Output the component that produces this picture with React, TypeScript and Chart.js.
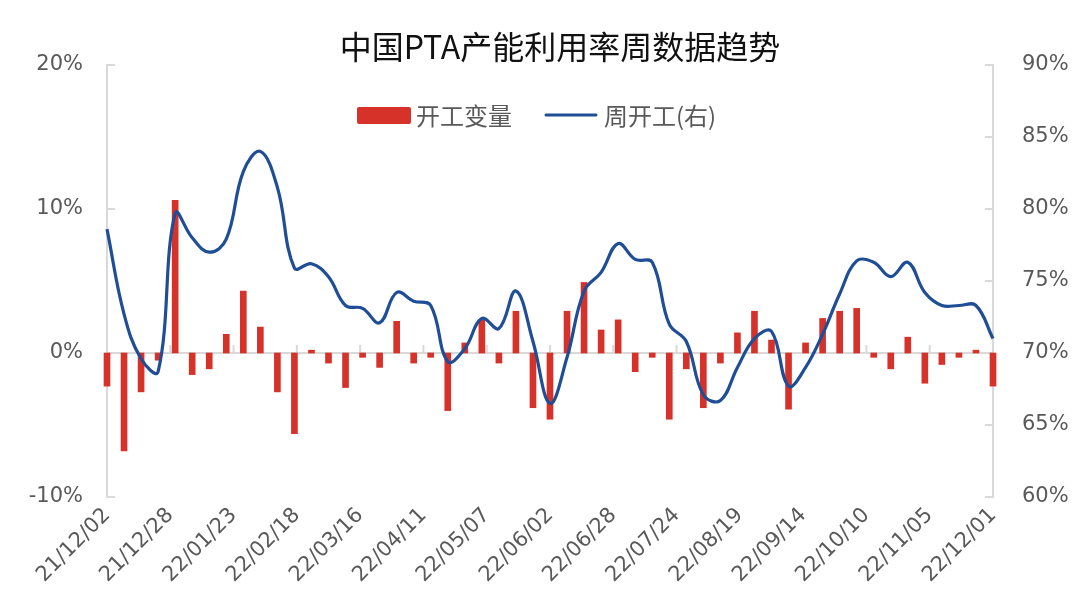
import React, { useEffect, useRef } from "react";
import { Chart, registerables } from "chart.js";

Chart.register(...registerables);

const tickLabels = ["21/12/02", "21/12/28", "22/01/23", "22/02/18", "22/03/16", "22/04/11", "22/05/07", "22/06/02", "22/06/28", "22/07/24", "22/08/19", "22/09/14", "22/10/10", "22/11/05", "22/12/01"];
const tickStepDays = 26;
const weekStepDays = 7;

const changeValues = [
  -2.3, -6.8, -2.7, -0.5, 10.6, -1.5, -1.1, 1.3, 4.3, 1.8,
  -2.7, -5.6, 0.2, -0.7, -2.4, -0.3, -1.0, 2.2, -0.7, -0.3,
  -4.0, 0.7, 2.3, -0.7, 2.9, -3.8, -4.6, 2.9, 4.9, 1.6,
  2.3, -1.3, -0.3, -4.6, -1.1, -3.8, -0.7, 1.4, 2.9, 0.9,
  -3.9, 0.7, 2.4, 2.9, 3.1, -0.3, -1.1, 1.1, -2.1, -0.8,
  -0.3, 0.2, -2.3,
];

const weeklyRate = [
  78.6, 72.7, 69.6, 68.7, 79.7, 78.0, 77.0, 77.9, 82.6, 84.0,
  81.5, 75.9, 76.2, 75.3, 73.3, 73.1, 72.1, 74.2, 73.6, 73.3,
  69.4, 70.3, 72.4, 71.7, 74.3, 70.8, 66.5, 69.7, 74.3, 75.6,
  77.6, 76.5, 76.3, 72.0, 70.8, 67.1, 66.7, 69.0, 71.0, 71.5,
  67.7, 69.0, 71.3, 74.1, 76.4, 76.3, 75.3, 76.3, 74.2, 73.3,
  73.3, 73.3, 71.0,
];

const titleText = "中国PTA产能利用率周数据趋势";
const barLabel = "开工变量";
const lineLabel = "周开工(右)";

const BAR_COLOR = "#d7322a";
const LINE_COLOR = "#1f4e96";
const AXIS_COLOR = "#d9d9d9";
const TEXT_COLOR = "#595959";
const FONT = '"DejaVu Sans", "Noto Sans", sans-serif';
const CJK_FONT = '"Noto Sans CJK SC", "Noto Sans", sans-serif';

const decorPlugin = {
  id: "decor",
  beforeDatasetsDraw(chart: any) {
    const { ctx, chartArea, scales } = chart;
    const x = scales.x;
    const y = scales.y;
    const y1 = scales.y1;
    ctx.save();
    ctx.strokeStyle = AXIS_COLOR;
    ctx.lineWidth = 2;
    const y0 = y.getPixelForValue(0);
    ctx.beginPath();
    ctx.moveTo(chartArea.left, y0);
    ctx.lineTo(chartArea.right, y0);
    ctx.stroke();
    for (let i = 0; i < tickLabels.length; i++) {
      const px = x.getPixelForValue(i * tickStepDays);
      ctx.beginPath();
      ctx.moveTo(px, y0);
      ctx.lineTo(px, y0 - 8);
      ctx.stroke();
    }
    y.ticks.forEach((t: any) => {
      const py = y.getPixelForValue(t.value);
      ctx.beginPath();
      ctx.moveTo(chartArea.left, py);
      ctx.lineTo(chartArea.left + 8, py);
      ctx.stroke();
    });
    y1.ticks.forEach((t: any) => {
      const py = y1.getPixelForValue(t.value);
      ctx.beginPath();
      ctx.moveTo(chartArea.right, py);
      ctx.lineTo(chartArea.right - 8, py);
      ctx.stroke();
    });
    ctx.restore();
  },
  afterDraw(chart: any) {
    const { ctx } = chart;
    ctx.save();
    ctx.fillStyle = "#111111";
    ctx.font = `32px ${CJK_FONT}`;
    ctx.textAlign = "center";
    ctx.textBaseline = "middle";
    ctx.fillText(titleText, 560, 47);
    ctx.fillStyle = BAR_COLOR;
    ctx.beginPath();
    (ctx as any).roundRect(357, 107, 54, 17, 2);
    ctx.fill();
    ctx.font = `24px ${CJK_FONT}`;
    ctx.textAlign = "left";
    ctx.fillStyle = TEXT_COLOR;
    ctx.fillText(barLabel, 416, 116);
    ctx.strokeStyle = LINE_COLOR;
    ctx.lineWidth = 3;
    ctx.lineCap = "round";
    ctx.beginPath();
    ctx.moveTo(546, 115);
    ctx.lineTo(596, 115);
    ctx.stroke();
    ctx.fillText(lineLabel, 604, 116);
    ctx.restore();
  },
};

export default function App() {
  const ref = useRef<HTMLCanvasElement>(null);
  useEffect(() => {
    if (!ref.current) return;
    const chart = new Chart(ref.current, {
      type: "bar",
      data: {
        datasets: [
          {
            type: "line",
            label: lineLabel,
            data: weeklyRate.map((v, i) => ({ x: i * weekStepDays, y: v })),
            yAxisID: "y1",
            borderColor: LINE_COLOR,
            borderWidth: 3.2,
            pointRadius: 0,
            tension: 0.4,
            order: 0,
            clip: false,
          } as any,
          {
            type: "bar",
            label: barLabel,
            data: changeValues.map((v, i) => ({ x: i * weekStepDays, y: v })),
            yAxisID: "y",
            backgroundColor: BAR_COLOR,
            barThickness: 6,
            order: 1,
            clip: false,
          } as any,
        ],
      },
      options: {
        animation: false,
        responsive: true,
        maintainAspectRatio: false,
        layout: { padding: { top: 65, left: 0, right: 0, bottom: 0 } },
        plugins: {
          legend: { display: false },
          title: { display: false },
          tooltip: { enabled: false },
        },
        scales: {
          x: {
            type: "linear",
            min: 0,
            max: (tickLabels.length - 1) * tickStepDays,
            offset: false,
            grid: { display: false, drawTicks: false },
            border: { display: false },
            afterFit: (s: any) => {
              s.height = 119;
            },
            afterBuildTicks: (s: any) => {
              s.ticks = tickLabels.map((_, i) => ({ value: i * tickStepDays }));
            },
            ticks: {
              autoSkip: false,
              maxRotation: 45,
              minRotation: 45,
              padding: 6,
              color: TEXT_COLOR,
              font: { family: FONT, size: 21 },
              callback: (v: any) => tickLabels[Math.round(Number(v) / tickStepDays)],
            },
          },
          y: {
            position: "left",
            min: -10,
            max: 20,
            grid: { display: false, drawTicks: false },
            border: { display: true, color: AXIS_COLOR, width: 2 },
            afterFit: (s: any) => {
              s.width = 107;
            },
            ticks: {
              stepSize: 10,
              padding: 24,
              color: TEXT_COLOR,
              font: { family: FONT, size: 21 },
              callback: (v: any) => `${v}%`,
            },
          },
          y1: {
            position: "right",
            min: 60,
            max: 90,
            grid: { display: false, drawTicks: false },
            border: { display: true, color: AXIS_COLOR, width: 2 },
            afterFit: (s: any) => {
              s.width = 81;
            },
            ticks: {
              stepSize: 5,
              padding: 29,
              color: TEXT_COLOR,
              font: { family: FONT, size: 21 },
              callback: (v: any) => `${v}%`,
            },
          },
        },
      } as any,
      plugins: [decorPlugin],
    });
    return () => chart.destroy();
  }, []);
  return (
    <div style={{ position: "fixed", left: 0, top: 0, width: 1074, height: 616, background: "#fff" }}>
      <canvas ref={ref} />
    </div>
  );
}
